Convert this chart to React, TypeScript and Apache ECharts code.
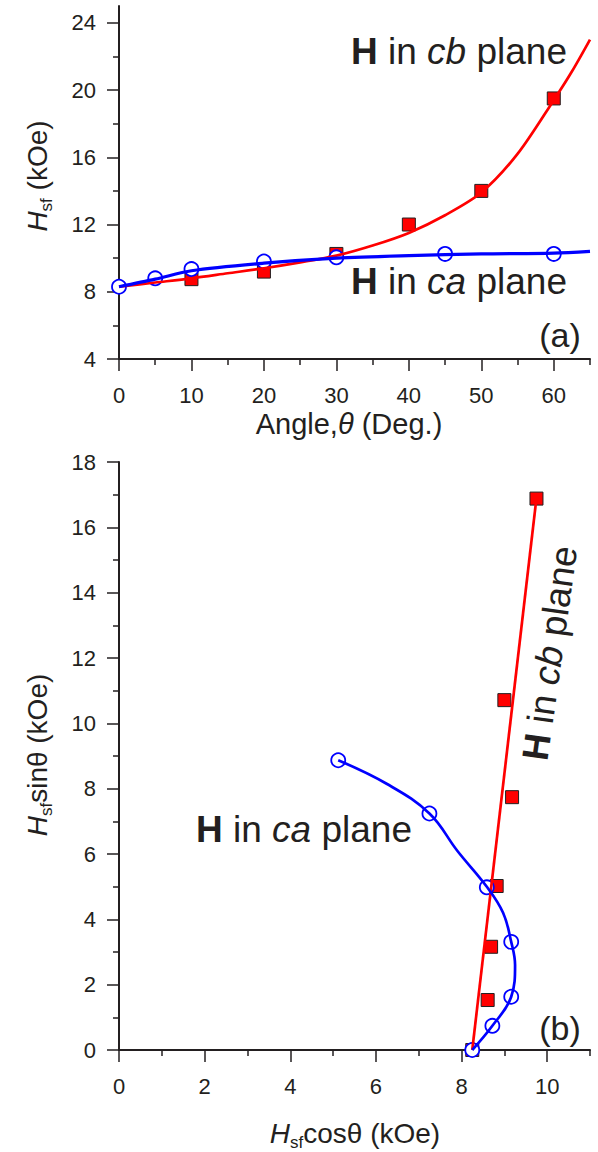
import React, { useEffect, useRef } from 'react';
import * as echarts from 'echarts';

// ---------- Panel (a): Hsf vs angle ----------
const topCbAngles = [10, 20, 30, 40, 50, 60];
const topCbValues = [8.75, 9.2, 10.25, 12.0, 14.0, 19.5];
const topCaAngles = [0, 5, 10, 20, 30, 45, 60];
const topCaValues = [8.3, 8.8, 9.35, 9.8, 10.05, 10.25, 10.25];
const topCbFitX = [0, 5, 10, 15, 20, 25, 30, 35, 40, 45, 50, 55, 60, 62.5, 65];
const topCbFitY = [8.3, 8.55, 8.8, 9.1, 9.4, 9.75, 10.15, 10.75, 11.5, 12.55, 13.9, 16.2, 19.4, 21.1, 23.0];
const topCaFitX = [0, 5, 10, 20, 30, 40, 50, 60, 65];
const topCaFitY = [8.3, 8.75, 9.25, 9.7, 10.0, 10.15, 10.25, 10.3, 10.4];

// ---------- Panel (b): Hsf sin vs Hsf cos ----------
const botCbX = [8.25, 8.61, 8.69, 8.82, 9.18, 9.0, 9.75];
const botCbY = [0, 1.53, 3.16, 5.02, 7.74, 10.71, 16.88];
const botCaX = [8.25, 8.72, 9.16, 9.16, 8.59, 7.25, 5.12];
const botCaY = [0, 0.74, 1.63, 3.31, 4.98, 7.24, 8.87];
const botCbFitX = [8.25, 9.75];
const botCbFitY = [0, 16.9];
const botCaFitX = [8.25, 8.72, 9.16, 9.25, 9.16, 8.97, 8.6, 7.9, 7.25, 6.25, 5.12];
const botCaFitY = [0, 0.74, 1.63, 2.6, 3.31, 4.2, 4.98, 6.1, 7.24, 8.15, 8.87];

// ---------- Ticks ----------
const topXMajor = [0, 10, 20, 30, 40, 50, 60];
const topXMinor = [5, 15, 25, 35, 45, 55, 65];
const topYMajor = [4, 8, 12, 16, 20, 24];
const topYMinor = [6, 10, 14, 18, 22];
const botXMajor = [0, 2, 4, 6, 8, 10];
const botXMinor = [1, 3, 5, 7, 9, 11];
const botYMajor = [0, 2, 4, 6, 8, 10, 12, 14, 16, 18];
const botYMinor = [1, 3, 5, 7, 9, 11, 13, 15, 17];

const INK = '#231f20';
const FONT = '"Liberation Sans", Arial, Helvetica, sans-serif';
const RED = '#ff0000';
const BLUE = '#0000ff';

const zip = (xs: number[], ys: number[]) => xs.map((x, i) => [x, ys[i]]);

function mainAxis(gridIndex: number, min: number, max: number, major: number[], isX: boolean) {
  return {
    type: 'value',
    gridIndex,
    min,
    max,
    position: isX ? 'bottom' : 'left',
    splitLine: { show: false },
    axisLine: { show: true, onZero: false, lineStyle: { color: INK, width: 2 } },
    axisTick: { show: true, length: 12, customValues: major, lineStyle: { color: INK, width: 1.5 } },
    axisLabel: {
      show: true,
      customValues: major,
      margin: isX ? 25 : 23,
      align: isX ? 'center' : 'right',
      verticalAlign: isX ? 'top' : 'middle',
      color: INK,
      fontSize: 22,
      fontFamily: FONT,
    },
  };
}

function minorAxis(gridIndex: number, min: number, max: number, minor: number[], isX: boolean) {
  return {
    type: 'value',
    gridIndex,
    min,
    max,
    position: isX ? 'bottom' : 'left',
    splitLine: { show: false },
    axisLine: { show: false, onZero: false },
    axisTick: { show: true, length: 6, customValues: minor, lineStyle: { color: INK, width: 1.5 } },
    axisLabel: { show: false },
  };
}

const labelRich = (plane: string) => ({
  text: `{b|H}{n| in }{i|${plane}}{n| plane}`,
  align: 'center',
  verticalAlign: 'middle',
  fill: INK,
  fontSize: 37,
  fontFamily: FONT,
  rich: {
    b: { fontSize: 37, fontFamily: FONT, fontWeight: 'bold', fill: INK },
    n: { fontSize: 37, fontFamily: FONT, fill: INK },
    i: { fontSize: 37, fontFamily: FONT, fontStyle: 'italic', fill: INK },
  },
});

const titleRich = (text: string, size: number) => ({
  text,
  align: 'center',
  verticalAlign: 'middle',
  fill: INK,
  fontSize: size,
  fontFamily: FONT,
  rich: {
    i: { fontSize: size, fontFamily: FONT, fontStyle: 'italic', fill: INK, lineHeight: 30 },
    s: { fontSize: 17, fontFamily: FONT, fill: INK, lineHeight: 17, padding: [19, 0, 0, 0] },
    n: { fontSize: size, fontFamily: FONT, fill: INK, lineHeight: 30 },
    t: { fontSize: size, fontFamily: FONT, fontStyle: 'italic', fill: INK, lineHeight: 30 },
  },
});

const markerSquare = { color: RED, borderColor: INK, borderWidth: 1, opacity: 1 };
const markerCircle = { color: '#ffffff', borderColor: BLUE, borderWidth: 1.8, opacity: 1 };

export default function App() {
  const ref = useRef<HTMLDivElement>(null);

  useEffect(() => {
    if (!ref.current) return;
    const chart = echarts.init(ref.current, undefined, { renderer: 'svg' });

    const option: any = {
      animation: false,
      backgroundColor: '#ffffff',
      grid: [
        { left: 119, top: 6, width: 471, height: 353 },
        { left: 119, top: 462, width: 471, height: 588 },
      ],
      xAxis: [
        mainAxis(0, 0, 65, topXMajor, true),
        minorAxis(0, 0, 65, topXMinor, true),
        mainAxis(1, 0, 11, botXMajor, true),
        minorAxis(1, 0, 11, botXMinor, true),
      ],
      yAxis: [
        mainAxis(0, 4, 25, topYMajor, false),
        minorAxis(0, 4, 25, topYMinor, false),
        mainAxis(1, 0, 18, botYMajor, false),
        minorAxis(1, 0, 18, botYMinor, false),
      ],
      series: [
        {
          type: 'scatter', xAxisIndex: 0, yAxisIndex: 0, z: 2,
          data: zip(topCbAngles, topCbValues), symbol: 'rect', symbolSize: 13,
          itemStyle: markerSquare,
        },
        {
          type: 'scatter', xAxisIndex: 0, yAxisIndex: 0, z: 3,
          data: zip(topCaAngles, topCaValues), symbol: 'circle', symbolSize: 14,
          itemStyle: markerCircle,
        },
        {
          type: 'line', xAxisIndex: 0, yAxisIndex: 0, z: 4,
          data: zip(topCbFitX, topCbFitY), smooth: 0.3, showSymbol: false,
          lineStyle: { color: RED, width: 2.7 },
        },
        {
          type: 'line', xAxisIndex: 0, yAxisIndex: 0, z: 4,
          data: zip(topCaFitX, topCaFitY), smooth: 0.3, showSymbol: false,
          lineStyle: { color: BLUE, width: 3.2 },
        },
        {
          type: 'scatter', xAxisIndex: 2, yAxisIndex: 2, z: 2,
          data: zip(botCbX, botCbY), symbol: 'rect', symbolSize: 13,
          itemStyle: markerSquare,
        },
        {
          type: 'scatter', xAxisIndex: 2, yAxisIndex: 2, z: 3,
          data: zip(botCaX, botCaY), symbol: 'circle', symbolSize: 14,
          itemStyle: markerCircle,
        },
        {
          type: 'line', xAxisIndex: 2, yAxisIndex: 2, z: 4,
          data: zip(botCbFitX, botCbFitY), showSymbol: false,
          lineStyle: { color: RED, width: 2.7 },
        },
        {
          type: 'line', xAxisIndex: 2, yAxisIndex: 2, z: 4,
          data: zip(botCaFitX, botCaFitY), smooth: 0.4, showSymbol: false,
          lineStyle: { color: BLUE, width: 2.7 },
        },
      ],
      graphic: [
        { type: 'text', x: 459, y: 51, z: 10, style: labelRich('cb') },
        { type: 'text', x: 459, y: 281, z: 10, style: labelRich('ca') },
        { type: 'text', x: 304, y: 829, z: 10, style: labelRich('ca') },
        { type: 'text', x: 550, y: 653, z: 10, rotation: (82 * Math.PI) / 180, style: labelRich('cb') },
        {
          type: 'text', x: 560, y: 335, z: 10,
          style: { text: '(a)', align: 'center', verticalAlign: 'middle', fill: INK, fontSize: 34, fontFamily: FONT },
        },
        {
          type: 'text', x: 560, y: 1028, z: 10,
          style: { text: '(b)', align: 'center', verticalAlign: 'middle', fill: INK, fontSize: 34, fontFamily: FONT },
        },
        {
          type: 'text', x: 349, y: 424, z: 10,
          style: titleRich('{n|Angle,}{t|θ}{n| (Deg.)}', 29),
        },
        {
          type: 'text', x: 37, y: 176, z: 10, rotation: Math.PI / 2,
          style: titleRich('{i|H}{s|sf}{n| (kOe)}', 28),
        },
        {
          type: 'text', x: 355, y: 1133, z: 10,
          style: titleRich('{i|H}{s|sf}{n|cosθ (kOe)}', 28),
        },
        {
          type: 'text', x: 37, y: 755, z: 10, rotation: Math.PI / 2,
          style: titleRich('{i|H}{s|sf}{n|sinθ (kOe)}', 28),
        },
      ],
    };

    chart.setOption(option);
    return () => chart.dispose();
  }, []);

  return (
    <div
      ref={ref}
      style={{ position: 'absolute', left: 0, top: 0, width: 598, height: 1152, background: '#fff' }}
    />
  );
}
